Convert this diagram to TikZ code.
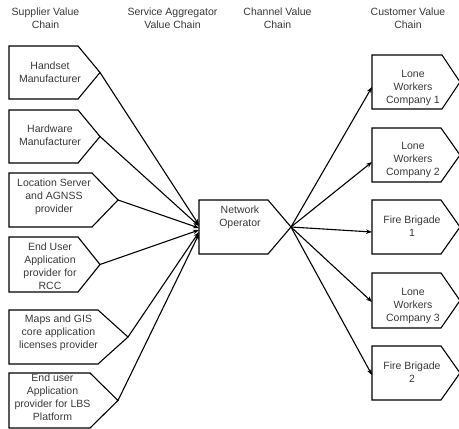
\documentclass[tikz,border=0pt]{standalone}
\usepackage{fontspec}
\setmainfont{Liberation Sans}
\usetikzlibrary{arrows.meta,calc}

% pentagon "chain" box: name, left, top, bottom, shoulder x, tip x, text x, text y, text
\newcommand\chainbox[9]{%
  \draw[boxline] (#2,#3) -- (#5,#3) -- (#6,{(#3+#4)/2}) -- (#5,#4) -- (#2,#4) -- cycle;
  \coordinate (#1-tip) at (#6,{(#3+#4)/2});
  \coordinate (#1-in) at (#2,{(#3+#4)/2});
  \node[boxtext] (#1) at (#7,#8) {#9};
}

\begin{document}
\begin{tikzpicture}[x=1pt,y=-1pt,
  boxline/.style={line width=1.1pt, line join=miter},
  boxtext/.style={align=center, inner sep=0pt, text=black!78,
    font=\fontsize{10.5}{13}\selectfont},
  header/.style={align=center, inner sep=0pt, text=black!78,
    font=\fontsize{10.5}{12.5}\selectfont},
  link/.style={line width=1.1pt, -{Stealth[length=6pt,width=4.5pt]}}]
\useasboundingbox (0,0) rectangle (459,429);

% column headings
\node[header] (h1) at (45.5,18) {Supplier Value\\Chain};
\node[header] (h2) at (172.5,18) {Service Aggregator\\Value Chain};
\node[header] (h3) at (277.5,18) {Channel Value\\Chain};
\node[header] (h4) at (408,18) {Customer Value\\Chain};

% suppliers
\chainbox{s1}{9}{46}{99}{78}{100}{50}{72}{Handset\\Manufacturer}
\chainbox{s2}{9}{110}{163}{78}{100}{50}{135.5}{Hardware\\Manufacturer}
\chainbox{s3}{9}{173}{227}{92}{118}{54}{197}{Location Server\\and AGNSS\\provider}
\chainbox{s4}{9}{237}{292}{78}{100}{50}{266.5}{End User\\Application\\provider for\\RCC}
\chainbox{s5}{9}{310}{364}{98}{128}{58.5}{333}{Maps and GIS\\core application\\licenses provider}
\chainbox{s6}{9}{373}{428}{90}{118}{52.5}{397.5}{End user\\Application\\provider for LBS\\Platform}

% channel
\chainbox{no}{199}{200}{254}{268}{291}{240}{217}{Network\\Operator}

% customers
\chainbox{c1}{372}{55}{109}{442}{460}{413}{88}{Lone\\Workers\\Company 1}
\chainbox{c2}{372}{128}{182}{441}{460}{413}{160}{Lone\\Workers\\Company 2}
\chainbox{c3}{372}{200}{254}{441}{460}{412}{226.5}{Fire Brigade\\1}
\chainbox{c4}{372}{273}{328}{441}{460}{413}{306}{Lone\\Workers\\Company 3}
\chainbox{c5}{372}{346}{400}{441}{460}{412}{372.5}{Fire Brigade\\2}

% supplier links into the operator
\draw[link] (s1-tip) -- ($(no-in)+(0,-2)$);
\draw[link] (s2-tip) -- ($(no-in)+(0,-1)$);
\draw[link] (s3-tip) -- ($(no-in)+(0,1)$);
\draw[link] (s4-tip) -- ($(no-in)+(0,3)$);
\draw[link] (s5-tip) -- ($(no-in)+(0,5)$);
\draw[link] (s6-tip) -- ($(no-in)+(0,7)$);

% operator links to customers
\draw[link] (no-tip) -- ($(c1-in)+(0,5)$);
\draw[link] (no-tip) -- ($(c2-in)+(0,7)$);
\draw[link] (no-tip) -- ($(c3-in)+(0,5)$);
\draw[link] (no-tip) -- ($(c4-in)+(0,1.5)$);
\draw[link] (no-tip) -- ($(c5-in)+(0,2)$);
\end{tikzpicture}
\end{document}
